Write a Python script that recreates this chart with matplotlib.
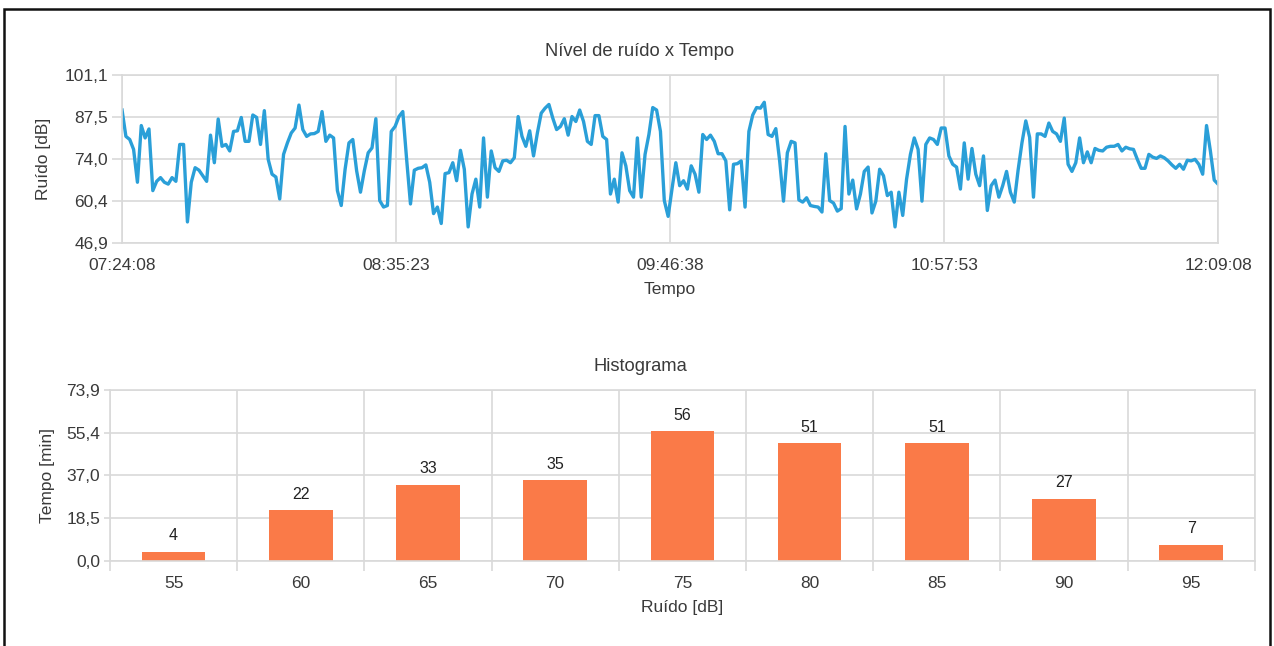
from datetime import datetime, timedelta

import matplotlib

matplotlib.use("Agg")
import matplotlib.pyplot as plt
import numpy as np
from matplotlib.patches import Rectangle
from matplotlib.ticker import FuncFormatter

# one reading per minute, starting 07:24:08
start_time = datetime(2000, 1, 1, 7, 24, 8)
noise_db = [
    89.8, 81.3, 80.3, 77.1, 66.5, 84.8, 80.8, 83.7, 63.8, 66.8,
    68.0, 66.5, 65.9, 68.0, 66.8, 78.7, 78.7, 53.7, 66.5, 71.2,
    70.4, 68.6, 66.8, 81.7, 72.8, 86.9, 78.1, 78.7, 76.6, 82.9,
    83.1, 87.4, 79.7, 79.7, 88.2, 87.4, 78.7, 89.6, 73.9, 69.1,
    68.2, 61.1, 75.5, 79.2, 82.4, 84.0, 91.4, 83.5, 81.3, 82.1,
    82.2, 82.9, 89.3, 79.7, 81.7, 80.8, 63.8, 59.0, 70.7, 79.2,
    80.3, 70.2, 63.3, 70.2, 76.0, 77.6, 87.0, 60.6, 58.5, 59.0,
    82.9, 84.5, 87.7, 89.3, 73.9, 59.5, 70.4, 71.0, 71.2, 72.1,
    66.5, 56.4, 58.5, 53.2, 69.3, 69.6, 72.8, 67.0, 76.8, 70.7,
    52.1, 62.7, 67.5, 58.5, 80.8, 61.7, 76.6, 71.2, 70.0, 73.4,
    73.6, 72.8, 74.4, 87.7, 81.3, 78.1, 83.1, 75.0, 82.4, 88.8,
    90.4, 91.6, 87.2, 83.5, 84.5, 87.0, 81.7, 87.7, 86.1, 89.8,
    86.1, 79.7, 78.7, 88.0, 88.0, 81.3, 80.3, 62.7, 67.5, 60.1,
    76.0, 71.8, 63.8, 61.7, 80.8, 61.7, 75.5, 81.9, 90.6, 89.8,
    82.9, 60.6, 55.5, 64.3, 72.8, 65.4, 67.0, 64.3, 71.8, 69.1,
    63.3, 81.9, 80.3, 81.7, 79.7, 75.7, 75.7, 73.4, 57.6, 72.3,
    72.5, 73.4, 58.5, 82.9, 88.2, 90.6, 90.4, 92.3, 81.9, 81.3,
    83.8, 73.4, 60.4, 76.0, 79.7, 79.2, 60.8, 60.1, 61.5, 59.0,
    58.7, 58.5, 56.9, 75.7, 60.6, 59.8, 57.2, 58.0, 84.5, 62.7,
    67.2, 57.9, 62.7, 70.0, 71.4, 56.6, 60.4, 70.7, 68.6, 62.2,
    63.3, 52.1, 63.3, 55.8, 67.5, 75.5, 80.8, 77.1, 60.4, 78.7,
    80.8, 80.3, 78.7, 84.0, 84.0, 75.0, 72.3, 71.4, 64.3, 79.2,
    67.5, 77.4, 69.1, 65.4, 75.0, 57.4, 65.4, 67.2, 61.7, 65.4,
    70.0, 63.3, 60.1, 70.4, 79.2, 86.3, 81.0, 61.7, 82.1, 82.1,
    81.3, 85.6, 82.9, 82.1, 79.7, 87.2, 72.3, 70.0, 72.8, 80.8,
    72.8, 76.3, 72.8, 77.4, 76.8, 76.6, 77.8, 78.1, 78.1, 78.7,
    76.6, 77.8, 77.3, 77.1, 73.9, 71.0, 71.0, 75.5, 74.6, 74.2,
    75.0, 74.4, 73.4, 72.1, 71.0, 72.3, 70.7, 73.6, 73.4, 73.9,
    72.3, 69.1, 84.8, 76.6, 67.2, 65.9,
]
noise_yticks = [46.9, 60.4, 74.0, 87.5, 101.1]
noise_ylabels = ["46,9", "60,4", "74,0", "87,5", "101,1"]
time_ticks_min = [0, 71.25, 142.5, 213.75, 285]

hist_bins = ["55", "60", "65", "70", "75", "80", "85", "90", "95"]
hist_minutes = [4, 22, 33, 35, 56, 51, 51, 27, 7]
hist_yticks = [0.0, 18.5, 37.0, 55.4, 73.9]
hist_ylabels = ["0,0", "18,5", "37,0", "55,4", "73,9"]

LINE_COLOR = "#2a9fd8"
BAR_COLOR = "#fa7a48"
GRID_COLOR = "#d9d9d9"
TEXT_COLOR = "#3a3a3a"

plt.rcParams["font.family"] = ["Liberation Sans", "DejaVu Sans"]
plt.rcParams["font.size"] = 12.5


def style_axes(ax):
    for spine in ax.spines.values():
        spine.set_color(GRID_COLOR)
        spine.set_linewidth(1.2)
    ax.grid(True, color=GRID_COLOR, linewidth=1.2)
    ax.set_axisbelow(True)
    ax.tick_params(colors=GRID_COLOR, labelcolor=TEXT_COLOR, width=1.2)


fig = plt.figure(figsize=(12.74, 6.46), dpi=100)

# top: noise level over time
ax1 = fig.add_axes([0.0958, 0.6238, 0.8603, 0.2601])
minutes = np.arange(len(noise_db))
ax1.plot(minutes, noise_db, color=LINE_COLOR, linewidth=2.4, solid_joinstyle="round")
ax1.set_xlim(time_ticks_min[0], time_ticks_min[-1])
ax1.set_ylim(noise_yticks[0], noise_yticks[-1])
ax1.set_xticks(time_ticks_min)
ax1.xaxis.set_major_formatter(
    FuncFormatter(lambda x, _: (start_time + timedelta(minutes=x)).strftime("%H:%M:%S"))
)
ax1.set_yticks(noise_yticks, noise_ylabels)
style_axes(ax1)
ax1.tick_params(axis="y", length=7, pad=3)
ax1.tick_params(axis="x", length=0, pad=11)
# titles sit at the middle of the figure, not of the plot area
ax1.set_title("Nível de ruído x Tempo", color=TEXT_COLOR, pad=14, fontsize=13.2, x=0.4726)
ax1.set_xlabel("Tempo", color=TEXT_COLOR, labelpad=6)
ax1.set_ylabel("Ruído [dB]", color=TEXT_COLOR, labelpad=10)

# bottom: histogram
ax2 = fig.add_axes([0.0863, 0.1316, 0.8987, 0.2647])
pos = np.arange(len(hist_bins))
bars = ax2.bar(pos, hist_minutes, width=0.5, color=BAR_COLOR)
ax2.bar_label(bars, labels=[str(v) for v in hist_minutes], padding=6, fontsize=11.5, color="#222222")
ax2.set_xlim(-0.5, len(hist_bins) - 0.5)
ax2.set_ylim(hist_yticks[0], hist_yticks[-1])
ax2.set_xticks(pos, hist_bins)
ax2.set_xticks(np.arange(len(hist_bins) + 1) - 0.5, minor=True)
ax2.set_yticks(hist_yticks, hist_ylabels)
style_axes(ax2)
ax2.grid(False, axis="x", which="major")
ax2.grid(True, axis="x", which="minor", color=GRID_COLOR, linewidth=1.2)
ax2.tick_params(axis="x", which="major", length=0, pad=11)
ax2.tick_params(axis="x", which="minor", length=7, color=GRID_COLOR, width=1.2)
ax2.tick_params(axis="y", length=4, pad=3)
ax2.set_title("Histograma", color=TEXT_COLOR, pad=14, fontsize=13.2, x=0.463)
ax2.set_xlabel("Ruído [dB]", color=TEXT_COLOR, labelpad=6)
ax2.set_ylabel("Tempo [min]", color=TEXT_COLOR, labelpad=8)

# outer frame
fig.patches.append(
    Rectangle((4 / 1274, -0.02), 1266 / 1274, 1.02 - 9 / 646, transform=fig.transFigure,
              fill=False, edgecolor="#111111", linewidth=1.8)
)

fig.savefig("out.png", dpi=100)
